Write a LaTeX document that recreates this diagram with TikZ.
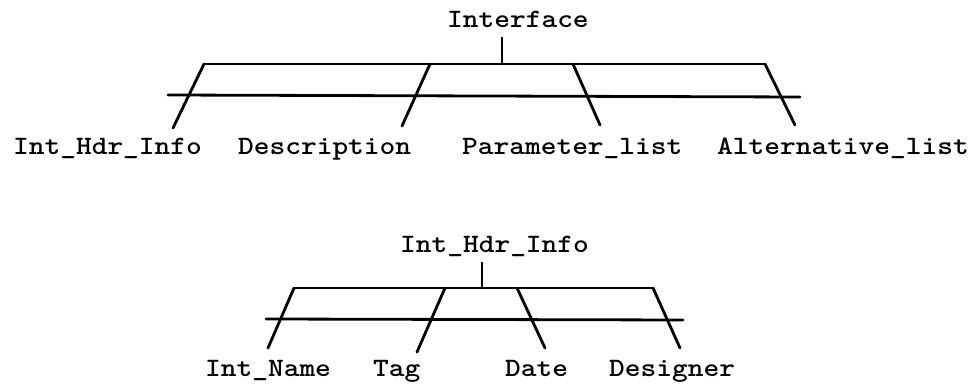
\documentclass[tikz,border=0pt]{standalone}
\tikzset{
  lbl/.style={inner sep=0pt, anchor=base west,
    font=\fontsize{26.5}{26.5}\selectfont\ttfamily\bfseries},
  bar/.style={line width=2.8pt, line cap=round},
  stem/.style={line width=2pt},
}
% monospaced labels set a little wider than the font's own pitch
\newcommand{\wlbl}[1]{\scalebox{1.13}[1]{#1}}
\begin{document}
\begin{tikzpicture}[x=1pt, y=-1pt]
\useasboundingbox (0,0) rectangle (978,387);

% ---------- Interface ----------
\node[lbl] (ifc) at (447,28) {\wlbl{Interface}};
\coordinate (ifc-s0) at (502,37);
\coordinate (ifc-s1) at (502,64);
\coordinate (ifc-bl) at (204,64);
\coordinate (ifc-br) at (765,64);
\coordinate (ifc-xl) at (168,95);
\coordinate (ifc-xr) at (800,97);
\coordinate (ifc-k2) at (430,64);
\coordinate (ifc-k3) at (573,64);

\node[lbl] (ihi)  at (13,155)  {\wlbl{Int\_Hdr\_Info}};
\node[lbl] (desc) at (238,155) {\wlbl{Description}};
\node[lbl] (par)  at (462,155) {\wlbl{Parameter\_list}};
\node[lbl] (alt)  at (717,155) {\wlbl{Alternative\_list}};

\coordinate (ihi-e)  at (173,128);
\coordinate (desc-e) at (402,126);
\coordinate (par-e)  at (600,125);
\coordinate (alt-e)  at (795,125);

\draw[stem] (ifc-s0) -- (ifc-s1);
\draw[bar] (ifc-bl) -- (ifc-br);
\draw[bar] (ifc-xl) -- (ifc-xr);
\draw[bar] (ifc-bl) -- (ihi-e);
\draw[bar] (ifc-k2) -- (desc-e);
\draw[bar] (ifc-k3) -- (par-e);
\draw[bar] (ifc-br) -- (alt-e);

% ---------- Int_Hdr_Info ----------
\node[lbl] (hdr) at (400,253) {\wlbl{Int\_Hdr\_Info}};
\coordinate (hdr-s0) at (482,262);
\coordinate (hdr-s1) at (482,288);
\coordinate (hdr-bl) at (294,288);
\coordinate (hdr-br) at (653,288);
\coordinate (hdr-xl) at (266,319);
\coordinate (hdr-xr) at (683,320);
\coordinate (hdr-k2) at (445,288);
\coordinate (hdr-k3) at (517,288);

\node[lbl] (iname) at (205,377) {\wlbl{Int\_Name}};
\node[lbl] (tag)   at (373,377) {\wlbl{Tag}};
\node[lbl] (date)  at (505,377) {\wlbl{Date}};
\node[lbl] (dsgn)  at (609,377) {\wlbl{Designer}};

\coordinate (iname-e) at (268,348);
\coordinate (tag-e)   at (417,352);
\coordinate (date-e)  at (545,348);
\coordinate (dsgn-e)  at (680,348);

\draw[stem] (hdr-s0) -- (hdr-s1);
\draw[bar] (hdr-bl) -- (hdr-br);
\draw[bar] (hdr-xl) -- (hdr-xr);
\draw[bar] (hdr-bl) -- (iname-e);
\draw[bar] (hdr-k2) -- (tag-e);
\draw[bar] (hdr-k3) -- (date-e);
\draw[bar] (hdr-br) -- (dsgn-e);
\end{tikzpicture}
\end{document}
